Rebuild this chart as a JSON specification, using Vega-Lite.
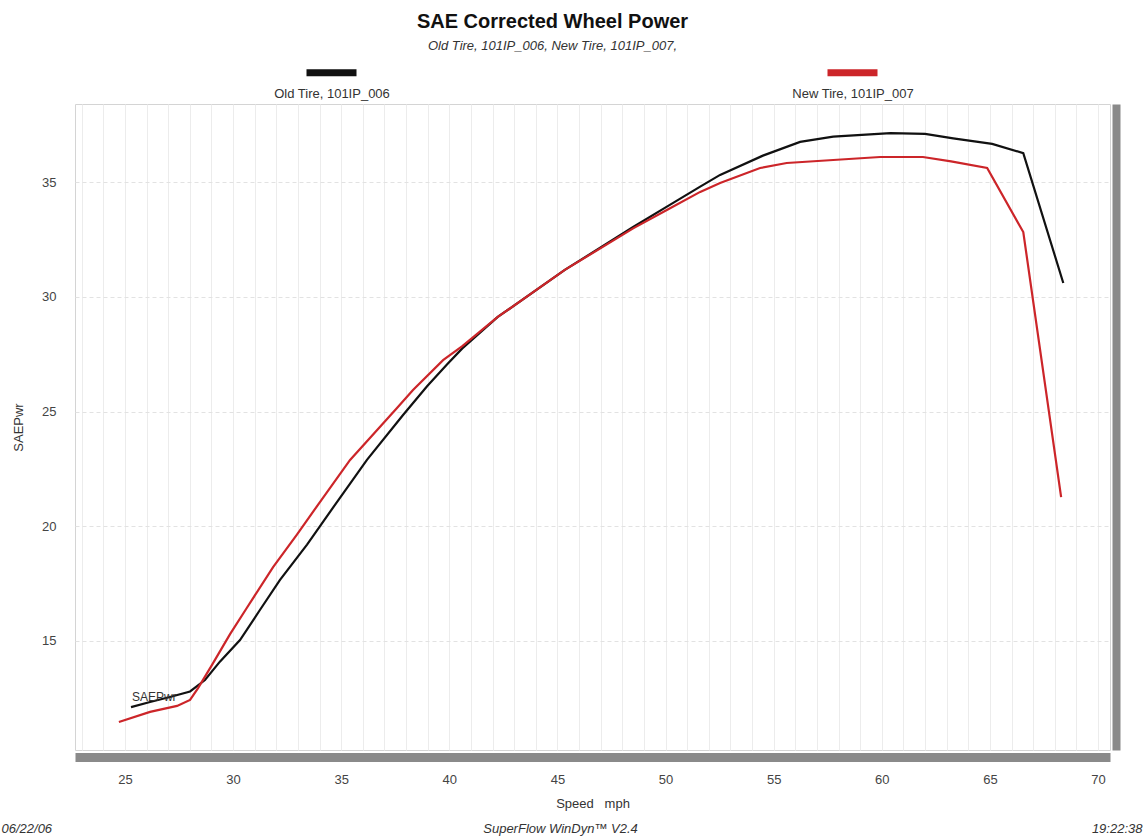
{
  "$schema": "https://vega.github.io/schema/vega-lite/v6.json",
  "autosize": {"type": "none"},
  "width": 1035,
  "height": 646,
  "padding": {"left": 75, "top": 104, "right": 37, "bottom": 89},
  "background": "white",
  "config": {
    "font": "Liberation Sans",
    "view": {"stroke": "#d4d4d4", "strokeWidth": 1}
  },
  "title": {
    "text": "SAE Corrected Wheel Power",
    "subtitle": "Old Tire, 101IP_006, New Tire, 101IP_007,",
    "anchor": "middle",
    "frame": "group",
    "dx": -40,
    "offset": -9,
    "fontSize": 20,
    "fontWeight": "bold",
    "color": "#111",
    "subtitleFontSize": 13,
    "subtitleFontStyle": "italic",
    "subtitleColor": "#333",
    "subtitlePadding": 8
  },
  "datasets": {
    "curves": [
      {"tire": "Old Tire, 101IP_006", "speed": 25.28, "power": 12.12},
      {"tire": "Old Tire, 101IP_006", "speed": 26.16, "power": 12.34},
      {"tire": "Old Tire, 101IP_006", "speed": 27.08, "power": 12.56},
      {"tire": "Old Tire, 101IP_006", "speed": 28.01, "power": 12.80},
      {"tire": "Old Tire, 101IP_006", "speed": 28.70, "power": 13.30},
      {"tire": "Old Tire, 101IP_006", "speed": 29.39, "power": 14.10},
      {"tire": "Old Tire, 101IP_006", "speed": 30.32, "power": 15.04},
      {"tire": "Old Tire, 101IP_006", "speed": 31.24, "power": 16.35},
      {"tire": "Old Tire, 101IP_006", "speed": 32.17, "power": 17.66},
      {"tire": "Old Tire, 101IP_006", "speed": 33.42, "power": 19.20},
      {"tire": "Old Tire, 101IP_006", "speed": 34.50, "power": 20.65},
      {"tire": "Old Tire, 101IP_006", "speed": 36.19, "power": 22.89},
      {"tire": "Old Tire, 101IP_006", "speed": 37.86, "power": 24.85},
      {"tire": "Old Tire, 101IP_006", "speed": 38.97, "power": 26.10},
      {"tire": "Old Tire, 101IP_006", "speed": 39.89, "power": 27.05},
      {"tire": "Old Tire, 101IP_006", "speed": 40.60, "power": 27.75},
      {"tire": "Old Tire, 101IP_006", "speed": 42.24, "power": 29.12},
      {"tire": "Old Tire, 101IP_006", "speed": 45.34, "power": 31.17},
      {"tire": "Old Tire, 101IP_006", "speed": 48.50, "power": 33.04},
      {"tire": "Old Tire, 101IP_006", "speed": 50.10, "power": 33.95},
      {"tire": "Old Tire, 101IP_006", "speed": 51.60, "power": 34.80},
      {"tire": "Old Tire, 101IP_006", "speed": 52.52, "power": 35.31},
      {"tire": "Old Tire, 101IP_006", "speed": 54.50, "power": 36.15},
      {"tire": "Old Tire, 101IP_006", "speed": 56.22, "power": 36.75},
      {"tire": "Old Tire, 101IP_006", "speed": 57.75, "power": 36.98},
      {"tire": "Old Tire, 101IP_006", "speed": 60.40, "power": 37.13},
      {"tire": "Old Tire, 101IP_006", "speed": 62.00, "power": 37.10},
      {"tire": "Old Tire, 101IP_006", "speed": 63.30, "power": 36.90},
      {"tire": "Old Tire, 101IP_006", "speed": 65.10, "power": 36.66},
      {"tire": "Old Tire, 101IP_006", "speed": 66.54, "power": 36.26},
      {"tire": "Old Tire, 101IP_006", "speed": 68.39, "power": 30.60},
      {"tire": "New Tire, 101IP_007", "speed": 24.72, "power": 11.47},
      {"tire": "New Tire, 101IP_007", "speed": 26.16, "power": 11.91},
      {"tire": "New Tire, 101IP_007", "speed": 27.41, "power": 12.17},
      {"tire": "New Tire, 101IP_007", "speed": 28.01, "power": 12.43},
      {"tire": "New Tire, 101IP_007", "speed": 28.38, "power": 12.95},
      {"tire": "New Tire, 101IP_007", "speed": 29.02, "power": 13.95},
      {"tire": "New Tire, 101IP_007", "speed": 29.86, "power": 15.30},
      {"tire": "New Tire, 101IP_007", "speed": 30.64, "power": 16.45},
      {"tire": "New Tire, 101IP_007", "speed": 31.85, "power": 18.22},
      {"tire": "New Tire, 101IP_007", "speed": 32.96, "power": 19.65},
      {"tire": "New Tire, 101IP_007", "speed": 33.90, "power": 20.90},
      {"tire": "New Tire, 101IP_007", "speed": 35.41, "power": 22.89},
      {"tire": "New Tire, 101IP_007", "speed": 37.58, "power": 25.15},
      {"tire": "New Tire, 101IP_007", "speed": 38.32, "power": 25.94},
      {"tire": "New Tire, 101IP_007", "speed": 39.71, "power": 27.24},
      {"tire": "New Tire, 101IP_007", "speed": 40.60, "power": 27.85},
      {"tire": "New Tire, 101IP_007", "speed": 42.24, "power": 29.12},
      {"tire": "New Tire, 101IP_007", "speed": 45.34, "power": 31.17},
      {"tire": "New Tire, 101IP_007", "speed": 48.50, "power": 32.98},
      {"tire": "New Tire, 101IP_007", "speed": 50.10, "power": 33.80},
      {"tire": "New Tire, 101IP_007", "speed": 51.60, "power": 34.57},
      {"tire": "New Tire, 101IP_007", "speed": 52.52, "power": 34.96},
      {"tire": "New Tire, 101IP_007", "speed": 54.37, "power": 35.61},
      {"tire": "New Tire, 101IP_007", "speed": 55.60, "power": 35.83},
      {"tire": "New Tire, 101IP_007", "speed": 57.75, "power": 35.96},
      {"tire": "New Tire, 101IP_007", "speed": 59.92, "power": 36.09},
      {"tire": "New Tire, 101IP_007", "speed": 61.90, "power": 36.09},
      {"tire": "New Tire, 101IP_007", "speed": 63.20, "power": 35.90},
      {"tire": "New Tire, 101IP_007", "speed": 64.87, "power": 35.61},
      {"tire": "New Tire, 101IP_007", "speed": 66.54, "power": 32.82},
      {"tire": "New Tire, 101IP_007", "speed": 68.29, "power": 21.27}
    ],
    "labels": [
      {"speed": 25.32, "power": 12.56, "text": "SAEPwr"}
    ]
  },
  "layer": [
    {
      "data": {"name": "curves"},
      "transform": [{"filter": "datum.tire === 'Old Tire, 101IP_006'"}],
      "mark": {"type": "line", "strokeWidth": 2.2, "clip": true},
      "encoding": {
        "x": {
          "field": "speed", "type": "quantitative",
          "scale": {"domain": [22.69, 70.55], "nice": false, "zero": false},
          "axis": {
            "orient": "bottom",
            "values": [23,24,25,26,27,28,29,30,31,32,33,34,35,36,37,38,39,40,41,42,43,44,45,46,47,48,49,50,51,52,53,54,55,56,57,58,59,60,61,62,63,64,65,66,67,68,69,70],
            "labelExpr": "datum.value % 5 === 0 ? datum.label : ''",
            "grid": true, "gridColor": "#ececec", "gridWidth": 1,
            "ticks": false, "tickSize": 0,
            "domain": true, "domainColor": "#8a8a8a", "domainWidth": 9,
            "offset": 7,
            "labelPadding": 16, "labelFontSize": 13, "labelColor": "#444",
            "title": "Speed\u00a0\u00a0\u00a0mph", "titleFontSize": 13, "titleFontWeight": "normal",
            "titleColor": "#333", "titleY": 46, "titleBaseline": "middle"
          }
        },
        "y": {
          "field": "power", "type": "quantitative",
          "scale": {"domain": [10.25, 38.4], "nice": false, "zero": false},
          "axis": {
            "orient": "left",
            "values": [15, 20, 25, 30, 35],
            "grid": true, "gridColor": "#e2e2e2", "gridDash": [4, 3],
            "ticks": false, "tickSize": 0, "domain": false,
            "labelPadding": 19, "labelFontSize": 13, "labelColor": "#444",
            "title": "SAEPwr", "titleFontSize": 13, "titleFontWeight": "normal",
            "titleColor": "#333", "titleX": -57, "titleBaseline": "middle"
          }
        },
        "color": {
          "field": "tire", "type": "nominal",
          "scale": {"domain": ["Old Tire, 101IP_006", "New Tire, 101IP_007"], "range": ["#111111", "#cc2529"]},
          "legend": {
            "orient": "none", "legendX": 228, "legendY": -60,
            "direction": "horizontal", "title": null, "padding": 0,
            "symbolType": "stroke", "symbolSize": 2500, "symbolStrokeWidth": 7,
            "labelExpr": "['', datum.label]", "labelBaseline": "top", "labelLineHeight": 18,
            "labelAlign": "center", "labelOffset": -28,
            "labelFontSize": 13, "labelColor": "#333",
            "columnPadding": 402
          }
        }
      }
    },
    {
      "data": {"name": "curves"},
      "transform": [{"filter": "datum.tire === 'New Tire, 101IP_007'"}],
      "mark": {"type": "line", "strokeWidth": 2.2, "clip": true},
      "encoding": {
        "x": {
          "field": "speed", "type": "quantitative",
          "scale": {"domain": [22.69, 70.55], "nice": false, "zero": false},
          "axis": {
            "orient": "bottom",
            "grid": false, "domain": false, "labels": false, "ticks": false,
            "title": "SuperFlow WinDyn™ V2.4", "titleFontSize": 13, "titleFontWeight": "normal",
            "titleFontStyle": "italic", "titleColor": "#333",
            "titleX": 485, "titleY": 78, "titleAlign": "center", "titleBaseline": "middle"
          }
        },
        "y": {
          "field": "power", "type": "quantitative",
          "scale": {"domain": [10.25, 38.4], "nice": false, "zero": false},
          "axis": {
            "orient": "right", "grid": false, "labels": false, "ticks": false,
            "domain": true, "domainColor": "#8a8a8a", "domainWidth": 8, "offset": 6,
            "title": "19:22:38", "titleAngle": 0, "titleFontSize": 13, "titleFontWeight": "normal",
            "titleFontStyle": "italic", "titleColor": "#333",
            "titleX": 26, "titleY": 724, "titleAlign": "right", "titleBaseline": "middle"
          }
        },
        "color": {
          "field": "tire", "type": "nominal",
          "scale": {"domain": ["Old Tire, 101IP_006", "New Tire, 101IP_007"], "range": ["#111111", "#cc2529"]}
        }
      }
    },
    {
      "data": {"name": "labels"},
      "mark": {"type": "text", "align": "left", "baseline": "middle", "fontSize": 12, "color": "#333"},
      "encoding": {
        "x": {"field": "speed", "type": "quantitative", "scale": {"domain": [22.69, 70.55], "nice": false, "zero": false}, "axis": null},
        "y": {
          "field": "power", "type": "quantitative",
          "scale": {"domain": [10.25, 38.4], "nice": false, "zero": false},
          "axis": {
            "orient": "left", "grid": false, "labels": false, "ticks": false, "domain": false,
            "title": "06/22/06", "titleAngle": 0, "titleFontSize": 13, "titleFontWeight": "normal",
            "titleFontStyle": "italic", "titleColor": "#333",
            "titleX": -74, "titleY": 724, "titleAlign": "left", "titleBaseline": "middle"
          }
        },
        "text": {"field": "text"}
      }
    }
  ],
  "resolve": {"axis": {"x": "independent", "y": "independent"}}
}
